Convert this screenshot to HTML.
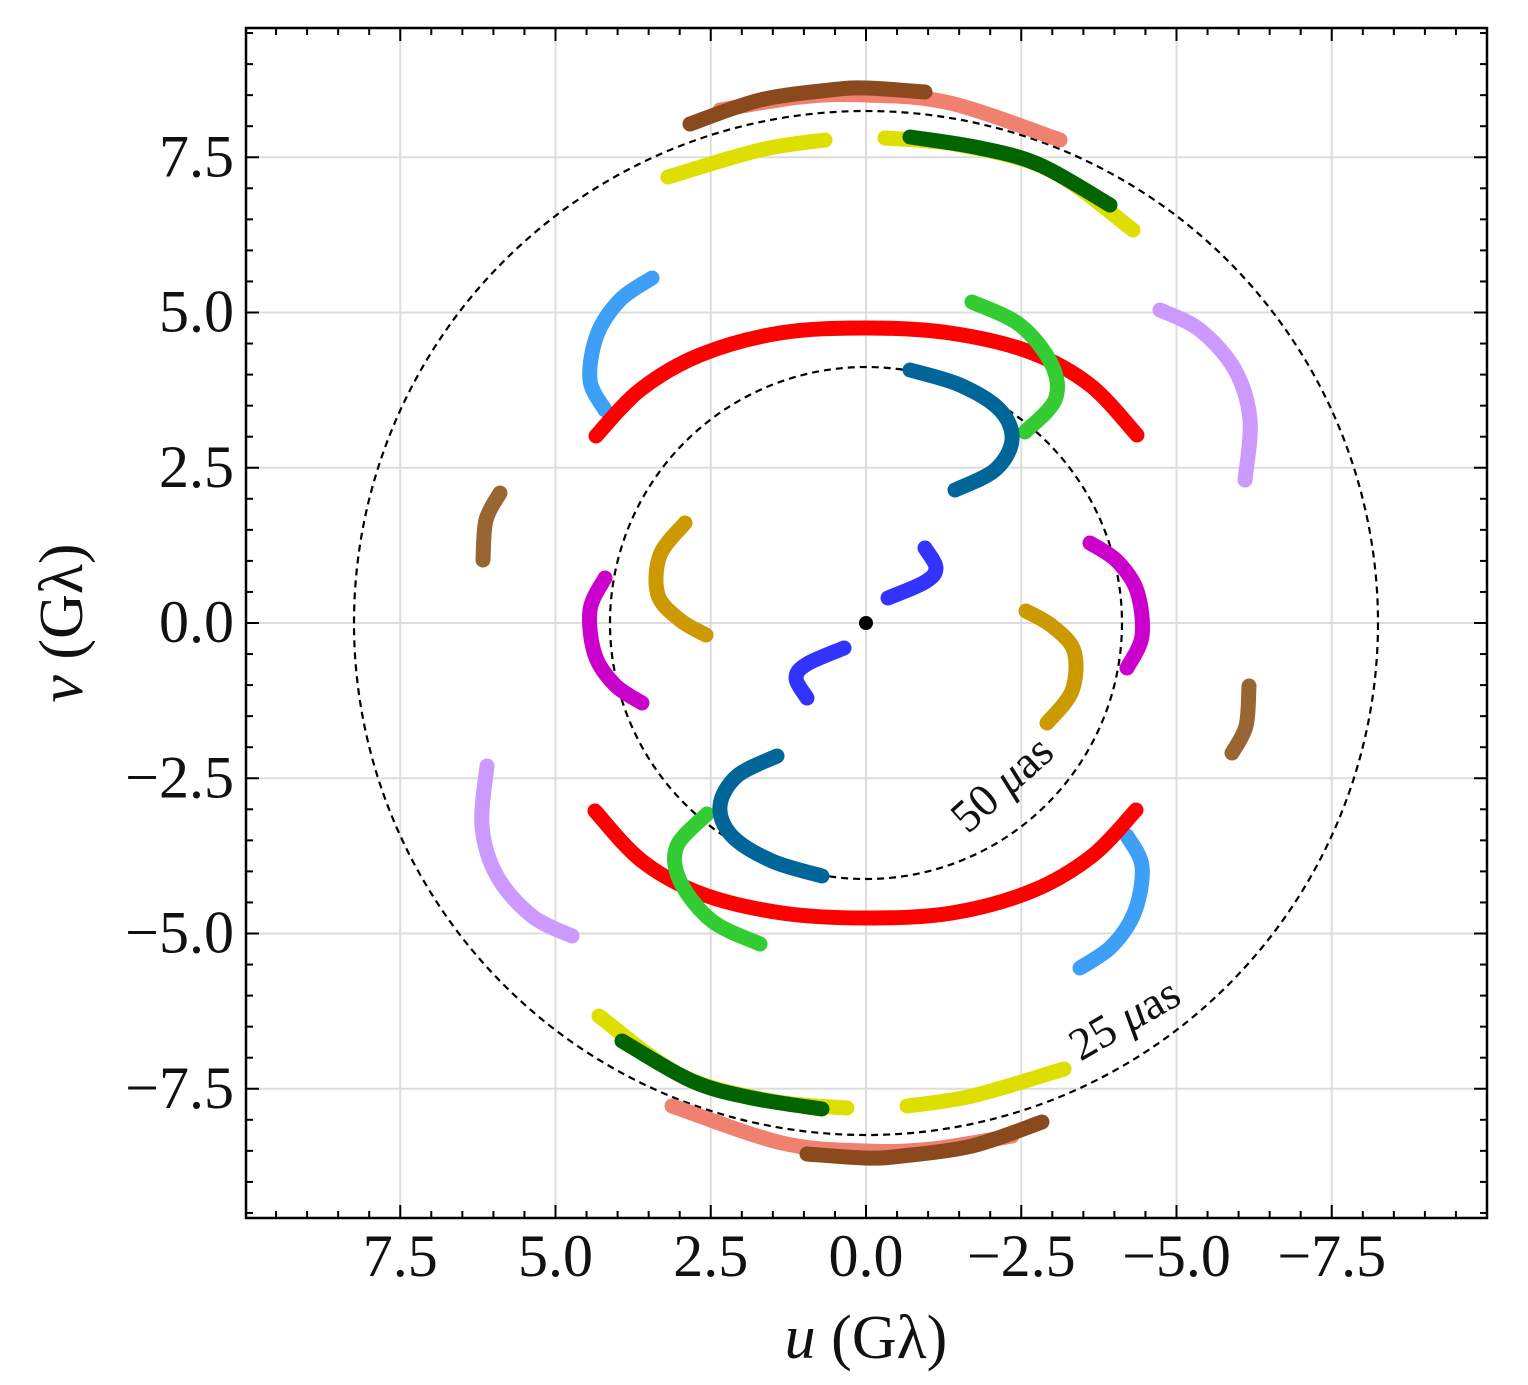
<!DOCTYPE html>
<html><head><meta charset="utf-8"><style>
html,body{margin:0;padding:0;background:#fff}
svg{display:block}
text{font-family:"Liberation Serif",serif;fill:#111}
</style></head><body>
<svg id="s" width="1528" height="1385" xmlns="http://www.w3.org/2000/svg">
<rect x="0" y="0" width="1528" height="1385" fill="#fff"/>
<g id="grid"></g>
<circle cx="866" cy="623" r="512" fill="none" stroke="#000" stroke-width="2.2" stroke-dasharray="7,5"/>
<circle cx="866" cy="623" r="256" fill="none" stroke="#000" stroke-width="2.2" stroke-dasharray="7,5"/>
<g id="tracks"></g>
<circle cx="866" cy="623" r="7" fill="#000"/>
<rect x="246" y="28" width="1241" height="1190" fill="none" stroke="#000" stroke-width="2.5"/>
<g id="ticks"></g>
<text x="1012" y="795" font-size="46" text-anchor="middle" transform="rotate(-42 1012 795)">50 <tspan font-style="italic">μ</tspan>as</text>
<text x="1132" y="1032" font-size="46" text-anchor="middle" transform="rotate(-30 1132 1032)">25 <tspan font-style="italic">μ</tspan>as</text>
<text x="866" y="1358" font-size="62" text-anchor="middle"><tspan font-style="italic">u</tspan> (Gλ)</text>
<text x="82" y="623" font-size="62" text-anchor="middle" transform="rotate(-90 82 623)"><tspan font-style="italic">v</tspan> (Gλ)</text>
</svg>
<script>
var NS="http://www.w3.org/2000/svg";
function el(p,n,a,t){var e=document.createElementNS(NS,n);for(var k in a)e.setAttribute(k,a[k]);if(t)e.textContent=t;p.appendChild(e);return e;}
var g=document.getElementById('grid'),tk=document.getElementById('ticks'),tr=document.getElementById('tracks');
var s=62.1;
for(var i=-19;i<=19;i++){var v=i*0.5;var x=866-s*v,y=623-s*v;
 var major=(Math.abs(i)%5==0);
 if(major){
  el(g,'line',{x1:x,y1:28,x2:x,y2:1218,stroke:'#ddd','stroke-width':2});
  el(g,'line',{x1:246,y1:y,x2:1487,y2:y,stroke:'#ddd','stroke-width':2});
 }
 var L=major?13:7;
 if(x>248&&x<1485){el(tk,'line',{x1:x,y1:28,x2:x,y2:28+L,stroke:'#000','stroke-width':2});el(tk,'line',{x1:x,y1:1218,x2:x,y2:1218-L,stroke:'#000','stroke-width':2});}
 if(y>30&&y<1216){el(tk,'line',{x1:246,y1:y,x2:246+L,y2:y,stroke:'#000','stroke-width':2});el(tk,'line',{x1:1487,y1:y,x2:1487-L,y2:y,stroke:'#000','stroke-width':2});}
 if(major){var lab=(v<0?'−':'')+Math.abs(v).toFixed(1);
  el(tk,'text',{x:x,y:1276,'font-size':60,'text-anchor':'middle'},lab);
  el(tk,'text',{x:234,y:y+19,'font-size':60,'text-anchor':'end'},lab);
 }
}
function cr(p){var d='M'+p[0][0]+','+p[0][1];
 for(var i=0;i<p.length-1;i++){var p0=p[i-1]||p[i],p1=p[i],p2=p[i+1],p3=p[i+2]||p2;
  d+=' C'+(p1[0]+(p2[0]-p0[0])/6)+','+(p1[1]+(p2[1]-p0[1])/6)+' '+(p2[0]-(p3[0]-p1[0])/6)+','+(p2[1]-(p3[1]-p1[1])/6)+' '+p2[0]+','+p2[1];}
 return d;}
var T=[
['#f08070',[[720,110],[800,97],[866,95],[950,103],[1060,140]]],
['#8b4a1e',[[690,124],[760,100],[830,90],[866,88],[925,92]]],
['#dede00',[[668,177],[760,150],[825,140]]],
['#dede00',[[885,138],[960,145],[1050,170],[1133,230]]],
['#006400',[[910,137],[980,148],[1040,165],[1110,205]]],
['#3d9ff5',[[652,278],[620,300],[597,335],[590,380],[605,410]]],
['#ff0000',[[596,436],[640,390],[700,355],[780,333],[866,328],[950,333],[1030,352],[1090,385],[1137,435]]],
['#33cc33',[[972,302],[1020,325],[1052,365],[1055,400],[1025,432]]],
['#cc99ff',[[1160,310],[1200,330],[1235,370],[1250,420],[1245,480]]],
['#006699',[[910,370],[960,385],[1000,410],[1012,440],[995,470],[955,490]]],
['#996633',[[500,493],[486,520],[483,560]]],
['#cc9900',[[685,523],[660,555],[658,595],[680,620],[706,635]]],
['#cc00cc',[[605,578],[590,610],[595,655],[615,685],[642,703]]],
['#3333ff',[[925,548],[936,568],[925,582],[888,598]]]
];
T.forEach(function(t){
 [1,-1].forEach(function(m){
  var pts=t[1].map(function(p){return m>0?p:[1732-p[0],1246-p[1]];});
  el(tr,'path',{d:cr(pts),fill:'none',stroke:t[0],'stroke-width':15,'stroke-linecap':'round','stroke-linejoin':'round'});
 });
});
</script>
</body></html>
